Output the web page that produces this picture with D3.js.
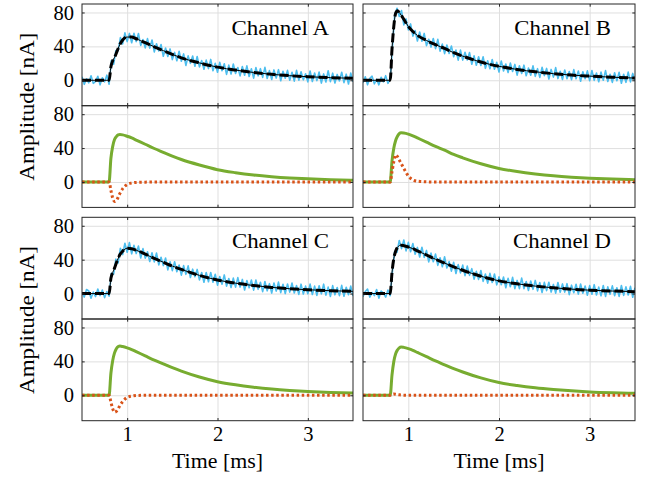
<!DOCTYPE html>
<html><head><meta charset="utf-8">
<script src="https://cdn.jsdelivr.net/npm/d3@7/dist/d3.min.js"></script>
<style>
body{margin:0;background:#fff}
svg{display:block}
svg text{font-family:"Liberation Serif","DejaVu Serif",serif;}
</style>
</head><body><svg id="c" width="646" height="482"></svg>
<script>
// ---------- data ----------
const channels = ["A", "B", "C", "D"];
const xTicks = [1, 2, 3];
const yTicks = [0, 40, 80];
const xLabel = "Time [ms]";
const yLabel = "Amplitude [nA]";

// measured (noisy) traces, sampled every 0.025 ms from 0.5 ms
const rawStart = 0.5, rawStep = 0.025;
const rawA = [4.2,-4.8,1.8,-3.0,5.4,-3.6,-1.2,4.8,-5.4,3.0,-1.8,6.0,
 -4.7,23.4,18.9,35.1,34.8,50.3,42.9,55.9,45.6,
 55.3,44.3,55.4,45.6,55.2,41.2,48.1,38.2,49.2,37.9,
 47.5,33.4,43.1,34.6,42.2,28.3,38,28,37,24.4,
 32.9,23.1,34.3,22.5,31.1,17.5,28.8,20,28.7,16.5,
 28,15.8,23.2,13,23.8,13.8,24.6,11.2,20.1,9.4,
 21.1,11.2,19.5,7,17.9,7.4,19.2,8,15,5.2,
 16.3,5.9,17,4.5,13.6,2.5,15,5.2,13.7,3.4,
 15.2,2.1,11.4,0.9,12.2,2.6,12.5,-0.6,10.7,2.4,
 11.7,0,9.4,-1,11.7,0.1,10,0.5,7.7,-1.9,
 10.9,-1.5,8.5,-0.4,9.7,-3.3,7.5,-2.1,11.3,-1.6,
 8.4,-3.2,6.9,-0.7,9.5,-2.8,7.2,-4.4,8.5,-1.8];
const rawB = [-3.0,4.2,-5.4,2.4,4.8,-4.2,1.2,-5.4,3.6,-1.8,5.4,-3.6,
 1.8,40,77.4,84.9,75.3,82.3,65.3,72.4,59.5,
 66.5,52.1,58.6,46.3,56.9,46,55.3,40.9,48.4,39.1,
 49.3,37.3,48.3,34.3,42.7,31.4,41.6,31.6,40.5,27.8,
 35.6,23.8,35.6,23.8,33,24,32.7,18.9,28.8,17.8,
 27.8,17.5,27.7,14.1,23,13.6,24.5,13,21.2,9.8,
 22.8,10.9,19.2,9.2,20.3,10.3,18.7,6.1,17.1,8,
 17.8,5.3,14.4,6,17,4.6,13.7,3.4,15.3,5.5,
 14,1.5,12.8,3.7,15,2,10.6,0.9,12.1,1.8,
 10.3,0.7,12.6,1.7,11,-1.2,10,1.8,11.1,-0.5,
 11.5,-0.1,8.5,-1.7,9.6,0,11.4,-1.5,7.1,-2.5,
 8.9,-0.6,9.4,-3.5,7.1,-2.4,9.6,-1.9,8.1,-0.8];
const rawC = [1.2,-4.2,4.8,3.0,-5.4,1.8,-3.6,5.4,-2.4,4.2,-4.8,2.4,
 -3.0,24,23,40.6,36.1,53.5,46,59.4,48.8,
 60.2,46.9,56.9,47.2,56.1,42,53.1,41.8,49.3,37.9,
 48.1,37.4,47.8,33.8,42.8,33,42,28,37.6,27.1,
 37.6,25.8,33.6,21.8,33,22.7,32.7,18.9,28.8,19.8,
 28.5,16.1,24.9,13.4,24.8,14,24.9,13.4,22.8,9.9,
 20.2,11,22,8.7,17.8,7.1,18.2,7.6,18.8,7.6,
 16.7,4.2,15.3,6.8,16,4.1,16,5,13.4,2.3,
 14.2,3.2,11.7,0.6,12.5,2.9,13.5,1.1,11,0,
 11.3,1.7,12.4,0.7,9.4,-1,11.1,-0.6,8.8,-0.2,
 11.2,-1.1,8.8,-2.1,9.3,-0.3,11.1,-1.8,7.6,-3.4,
 9.4,-1.5,7.2,-2.4,9.7,-3.2,7.5,-1.4,8.8,-2.8];
const rawD = [-3.6,2.4,5.4,-4.2,1.2,-2.4,4.8,-5.4,3.0,0.6,-4.2,4.2,
 -2.4,26.3,50,48.8,62.6,53,63.2,50.4,60.4,
 49.3,59.1,46.4,54.5,43.2,54.7,42.7,50.9,37.4,47.7,
 37.6,46.6,33.3,42.2,31.7,43.4,30.2,37.7,26.5,36.9,
 23.7,34.2,24.4,33.6,21.2,32.4,21.5,29.4,17,26.2,
 16.7,27.2,14.4,23.1,12.3,23.9,13,23.1,10.3,19.7,
 10.5,19.5,6.9,18,8.1,19.1,5.8,15.5,5.8,18.2,
 5.8,14.2,3.7,14.9,5,15.5,3.2,13,1.3,13.2,
 3.5,13.4,1.7,10.8,0.5,13.1,1.5,11.4,1.7,11.7,
 -1.3,9.9,1,11,-0.6,11.3,0.4,9,-1.9,9.4,
 -0.8,10.5,-1.7,7.6,-2.6,9.5,-3.4,7.9,-0.9,9.1,
 -2.5,6.9,-3.3,9.5,-2.1,7.9,-1.6,8.5,-4.4,7];

// smooth curves (fit, slow component, fast component)
const tFit = [0.5,0.8,0.82,0.84,0.86,0.88,0.90,0.92,0.95,1.0,1.05,1.1,1.2,1.3,1.4,1.5,1.6,1.8,2.0,2.2,2.4,2.6,2.8,3.0,3.25,3.5];
const fitA = [0,0,16,23,27,32,37.5,42.5,47.6,51,51,49,44.3,39.5,35,30.5,26.5,20.5,15.5,12,9.2,7,5.4,4.2,3.1,2.3];
const fitB = [0,0,37,64,79,82,80,77,72,63.5,57.5,53,47,42,37.5,32.5,28.5,21.5,16.5,12.8,10,7.8,6.1,4.9,3.6,2.6];
const fitC = [0,0,18,25,30,36,41.5,46,50,53.5,53,51.2,46.5,41.5,37,32.5,28.5,21.5,16,12.3,9.5,7.3,5.7,4.5,3.4,2.6];
const fitD = [0,0,25,41.5,50,54.5,56.5,57,56.5,55,53,50.5,45.5,40.5,36,31.5,27.5,20.5,15,11.5,8.8,6.8,5.2,4.0,3.0,2.3];
const slowA = [0,0,28,42,50,53.5,55.5,56,55.6,54,52,49.5,44.5,39.5,35,30.5,26.5,20,14.5,11,8.3,6.3,4.8,3.7,2.7,2.0];
const slowB = [0,0,25,40,49,54,57,58,57.8,56.5,54.5,52,47,42,37.5,32.5,28.5,21.5,16,12.3,9.5,7.3,5.7,4.5,3.4,2.6];
const slowC = [0,0,26,41,50,55,57.5,58,57.5,56,54,51.5,46.5,41.5,37,32.5,28.5,21.5,16,12.3,9.5,7.3,5.7,4.5,3.4,2.6];
const slowD = [0,0,24,40,49,53.5,56,57,56.5,55,53,50.5,45.5,40.5,36,31.5,27.5,20.5,15,11.5,8.8,6.8,5.2,4.0,3.0,2.3];
const fastA = [0,0,-10,-19,-23,-22,-18,-13.5,-8,-3,-1.2,-0.5,-0.2,0,0,0,0,0,0,0,0,0,0,0,0,0];
const fastB = [0,0,12,24,32,30,26,22,16,7,2.5,1,0.2,0,0,0,0,0,0,0,0,0,0,0,0,0];
const fastC = [0,0,-8,-16,-20,-19,-16,-12,-7.5,-2.5,-1,-0.3,0,0,0,0,0,0,0,0,0,0,0,0,0,0];
const fastD = [0,0,1,1.5,1.2,0.8,0.5,0.3,0.1,0,0,0,0,0,0,0,0,0,0,0,0,0,0,0,0,0];

const raws = [rawA, rawB, rawC, rawD];
const fits = [fitA, fitB, fitC, fitD];
const slows = [slowA, slowB, slowC, slowD];
const fasts = [fastA, fastB, fastC, fastD];

// ---------- layout ----------
const svg = d3.select("#c");
const cols = [[82, 353], [363, 635]];
const blockTops = [4, 217.3];
const pH = 101.7;
const xDom = [0.5, 3.5], yDom = [-30, 90];
const AX = "#262626", GRID = "#dfdfdf";
const C_RAW = "#4DBEEE", C_SLOW = "#77AC30", C_FAST = "#D95319";
const tickLen = 2.7;

let clipId = 0;
function panel(col, top, isLeft, isBottomRow, drawFn) {
  const [x0, x1] = cols[col];
  const xs = d3.scaleLinear(xDom, [x0, x1]);
  const ys = d3.scaleLinear(yDom, [top + pH, top]);
  const g = svg.append("g");
  g.append("g").attr("transform", `translate(0,${top + pH})`)
    .call(d3.axisBottom(xs).tickValues(xTicks).tickSize(-pH).tickFormat(""))
    .call(s => { s.select(".domain").remove(); s.selectAll("line").attr("stroke", GRID).attr("stroke-width", 1); });
  g.append("g").attr("transform", `translate(${x0},0)`)
    .call(d3.axisLeft(ys).tickValues(yTicks).tickSize(-(x1 - x0)).tickFormat(""))
    .call(s => { s.select(".domain").remove(); s.selectAll("line").attr("stroke", GRID).attr("stroke-width", 1); });
  const id = "clip" + (clipId++);
  svg.append("clipPath").attr("id", id).append("rect")
    .attr("x", x0).attr("y", top).attr("width", x1 - x0).attr("height", pH);
  const dg = g.append("g").attr("clip-path", `url(#${id})`);
  drawFn(dg, xs, ys);
  g.append("rect").attr("x", x0).attr("y", top).attr("width", x1 - x0).attr("height", pH)
    .attr("fill", "none").attr("stroke", AX).attr("stroke-width", 1);
  const styleAx = s => {
    s.select(".domain").remove();
    s.selectAll("line").attr("stroke", AX).attr("stroke-width", 1);
    s.selectAll("text").attr("fill", "#000").attr("font-size", 20.5);
  };
  g.append("g").attr("transform", `translate(${x0},0)`)
    .call(d3.axisLeft(ys).tickValues(yTicks).tickSizeInner(-tickLen).tickSizeOuter(0).tickPadding(8)
      .tickFormat(isLeft ? d3.format("d") : ""))
    .call(styleAx);
  g.append("g").attr("transform", `translate(${x1},0)`)
    .call(d3.axisRight(ys).tickValues(yTicks).tickSizeInner(-tickLen).tickSizeOuter(0).tickFormat(""))
    .call(styleAx);
  g.append("g").attr("transform", `translate(0,${top})`)
    .call(d3.axisTop(xs).tickValues(xTicks).tickSizeInner(-tickLen).tickSizeOuter(0).tickFormat(""))
    .call(styleAx);
  g.append("g").attr("transform", `translate(0,${top + pH})`)
    .call(d3.axisBottom(xs).tickValues(xTicks).tickSizeInner(-tickLen).tickSizeOuter(0).tickPadding(6)
      .tickFormat(isBottomRow ? d3.format("d") : ""))
    .call(styleAx);
  return { xs, ys, g };
}

const chanWidths = { A: 97.6, B: 96.8, C: 97.1, D: 97.9 };

channels.forEach((ch, k) => {
  const col = k % 2, row = Math.floor(k / 2);
  const top = blockTops[row];
  const rawPts = raws[k].map((v, i) => [rawStart + i * rawStep, v]);
  const fitPts = tFit.map((t, i) => [t, fits[k][i]]);
  const slowPts = tFit.map((t, i) => [t, slows[k][i]]);
  const fastPts = tFit.map((t, i) => [t, fasts[k][i]]);

  const p1 = panel(col, top, col === 0, false, (dg, xs, ys) => {
    const lin = d3.line().x(d => xs(d[0])).y(d => ys(d[1]));
    const smooth = d3.line().x(d => xs(d[0])).y(d => ys(d[1])).curve(d3.curveMonotoneX);
    dg.append("path").attr("d", lin(rawPts)).attr("fill", "none").attr("stroke", C_RAW)
      .attr("stroke-width", 1.6).attr("stroke-linejoin", "round");
    dg.append("path").attr("d", smooth(fitPts)).attr("fill", "none").attr("stroke", "#000")
      .attr("stroke-width", 1);
    dg.append("path").attr("d", smooth(fitPts)).attr("fill", "none").attr("stroke", "#000")
      .attr("stroke-width", 3).attr("stroke-dasharray", "9,4");
  });
  p1.g.append("text").attr("x", cols[col][1] - 24).attr("y", top + 31)
    .attr("text-anchor", "end").attr("font-size", 20.8)
    .attr("textLength", chanWidths[ch]).attr("lengthAdjust", "spacingAndGlyphs")
    .text("Channel " + ch);

  panel(col, top + pH, col === 0, row === 1, (dg, xs, ys) => {
    const smooth = d3.line().x(d => xs(d[0])).y(d => ys(d[1])).curve(d3.curveMonotoneX);
    dg.append("path").attr("d", smooth(slowPts)).attr("fill", "none").attr("stroke", C_SLOW)
      .attr("stroke-width", 3);
    dg.append("path").attr("d", smooth(fastPts)).attr("fill", "none").attr("stroke", C_FAST)
      .attr("stroke-width", 3).attr("stroke-dasharray", "2.5,2.6");
  });
});

blockTops.forEach(top => {
  svg.append("text").attr("transform", `translate(33.5,${top + pH + 1}) rotate(-90)`)
    .attr("text-anchor", "middle").attr("font-size", 20.8)
    .attr("textLength", 148).attr("lengthAdjust", "spacingAndGlyphs")
    .text(yLabel);
});
cols.forEach(([x0, x1]) => {
  svg.append("text").attr("x", (x0 + x1) / 2).attr("y", 467.5)
    .attr("text-anchor", "middle").attr("font-size", 20.8)
    .attr("textLength", 91).attr("lengthAdjust", "spacingAndGlyphs")
    .text(xLabel);
});
</script>
</body></html>
